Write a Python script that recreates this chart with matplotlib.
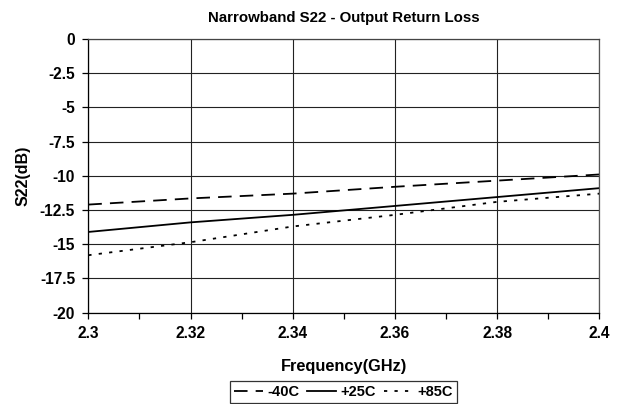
import matplotlib
matplotlib.use("Agg")
import matplotlib.pyplot as plt
from matplotlib.ticker import MultipleLocator, FixedLocator

plt.rcParams['font.family'] = ['Liberation Sans', 'DejaVu Sans']

freq = [2.30, 2.32, 2.34, 2.36, 2.38, 2.40]
s22_m40 = [-12.1, -11.65, -11.3, -10.8, -10.35, -9.9]
s22_p25 = [-14.1, -13.4, -12.85, -12.2, -11.55, -10.9]
s22_p85 = [-15.8, -14.85, -13.7, -12.85, -11.9, -11.3]
labels = ['-40C', '+25C', '+85C']
x_ticks = [2.30, 2.32, 2.34, 2.36, 2.38, 2.40]
x_tick_labels = ['2.3', '2.32', '2.34', '2.36', '2.38', '2.4']
y_ticks = [0, -2.5, -5, -7.5, -10, -12.5, -15, -17.5, -20]
y_tick_labels = ['0', '-2.5', '-5', '-7.5', '-10', '-12.5', '-15', '-17.5', '-20']

fig = plt.figure(figsize=(6.21, 4.04), dpi=100)
ax = fig.add_axes([0.1422, 0.226, 0.8229, 0.6775])

lw = 1.3
ax.plot(freq, s22_m40, color='black', lw=lw, linestyle=(0, (7.5, 4.5)), label=labels[0])
ax.plot(freq, s22_p25, color='black', lw=lw, linestyle='-', label=labels[1])
ax.plot(freq, s22_p85, color='black', lw=lw, linestyle=(0, (1.8, 4)), label=labels[2])

ax.set_xlim(2.3, 2.4)
ax.set_ylim(-20, 0)
ax.xaxis.set_major_locator(FixedLocator(x_ticks))
ax.set_xticklabels(x_tick_labels)
ax.xaxis.set_minor_locator(MultipleLocator(0.01))
ax.yaxis.set_major_locator(FixedLocator(y_ticks))
ax.set_yticklabels(y_tick_labels)

ax.grid(True, which='major', color='#222222', lw=0.8)
ax.set_axisbelow(True)
for s in ax.spines.values():
    s.set_color('black')
    s.set_linewidth(0.9)
ax.spines['top'].set_color('#444444')
ax.spines['right'].set_color('#555555')

ax.tick_params(axis='both', which='major', direction='out', length=4.5, width=0.9,
               labelsize=11.2, pad=5)
ax.tick_params(axis='x', which='minor', direction='out', length=4.5, width=0.9)
for t in ax.get_xticklabels() + ax.get_yticklabels():
    t.set_fontweight('bold')

ax.set_title('Narrowband S22 - Output Return Loss', fontsize=10.8, fontweight='bold', pad=12)
ax.set_xlabel('Frequency(GHz)', fontsize=11.8, fontweight='bold', labelpad=13)
ax.set_ylabel('S22(dB)', fontsize=11.5, fontweight='bold', labelpad=7)

leg = fig.legend(loc='center', bbox_to_anchor=(0.553, 0.03), ncol=3, frameon=True,
                 fancybox=False, edgecolor='black', handlelength=2.0, handletextpad=0.3,
                 columnspacing=0.5, borderpad=0.3, prop={'weight': 'bold', 'size': 10.5})
leg.get_frame().set_linewidth(0.9)

fig.savefig('out.png', dpi=100)
